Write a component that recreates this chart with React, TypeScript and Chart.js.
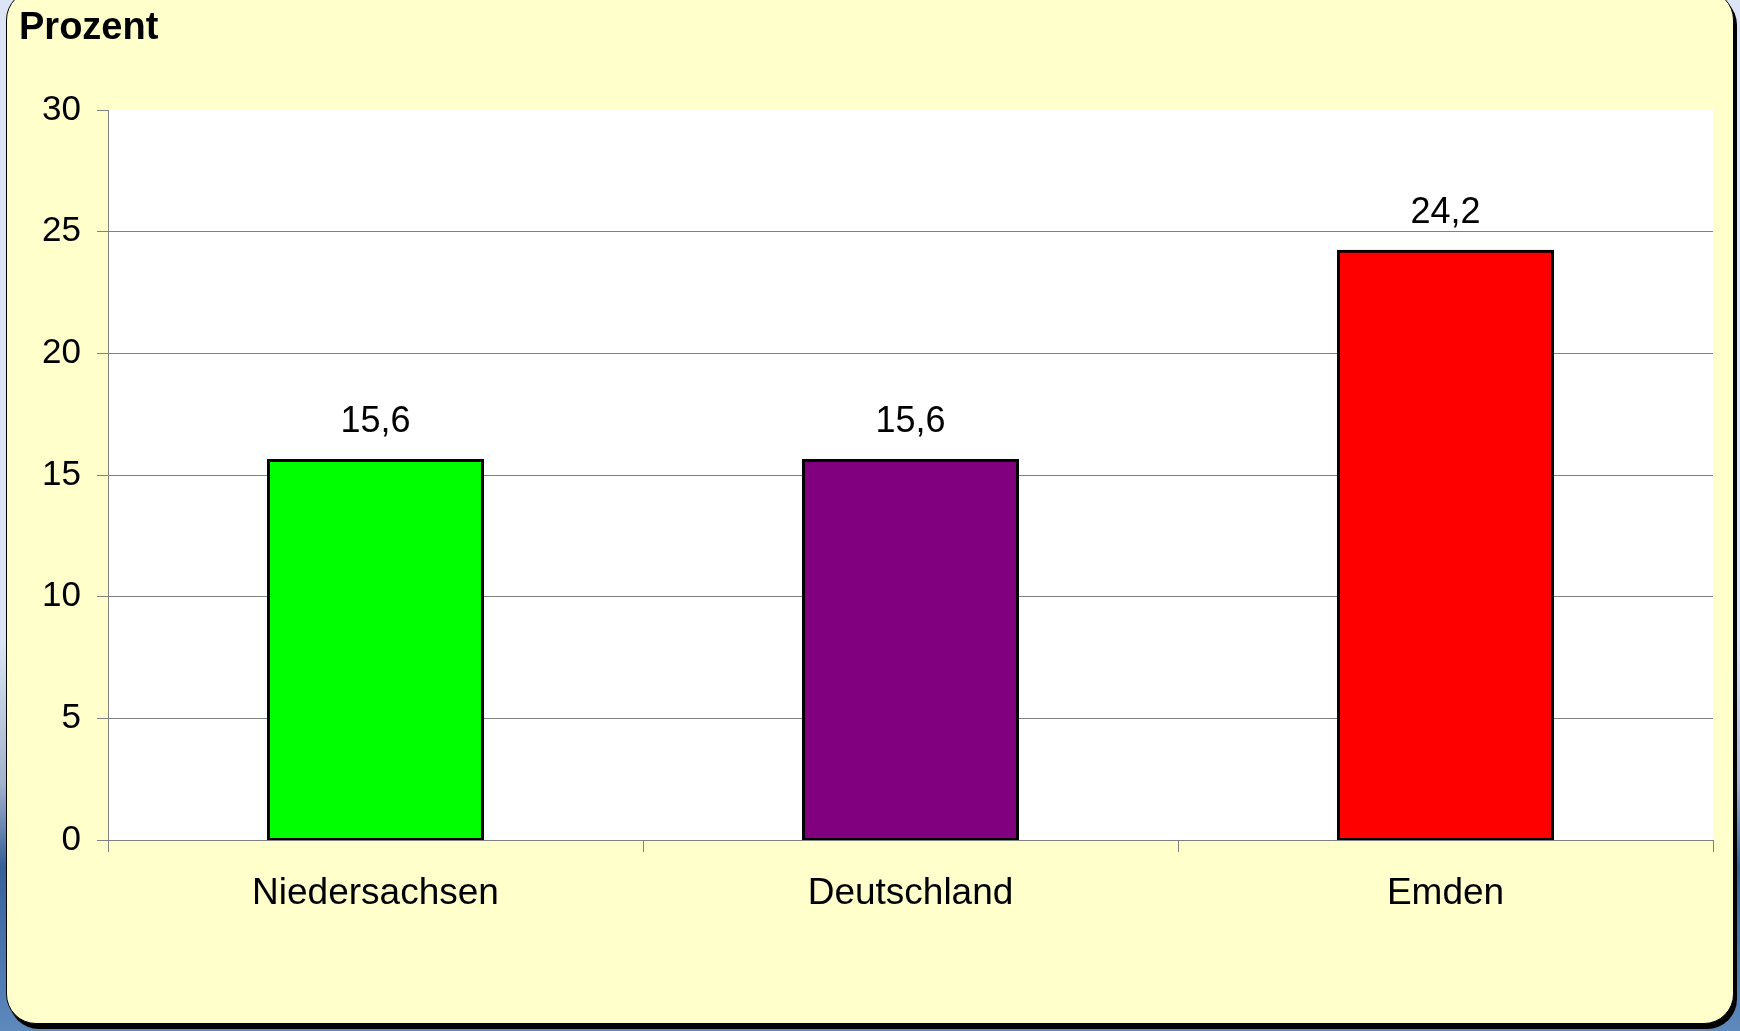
import React, { useEffect, useRef } from "react";
import { Chart, registerables } from "chart.js";

Chart.register(...registerables);

const categories: string[] = ["Niedersachsen", "Deutschland", "Emden"];
const values: number[] = [15.6, 15.6, 24.2];
const barColors: string[] = ["#00FF00", "#800080", "#FF0000"];
const yTickMin = 0;
const yTickMax = 30;
const yTickStep = 5;
const titleText = "Prozent";

const FONT = "'Liberation Sans', Arial, sans-serif";

const plotBgPlugin = {
  id: "plotBg",
  beforeDraw(chart: any) {
    const { ctx, chartArea } = chart;
    ctx.save();
    ctx.fillStyle = "#FFFFFF";
    ctx.fillRect(chartArea.left, chartArea.top, chartArea.right - chartArea.left, chartArea.bottom - chartArea.top);
    ctx.restore();
  },
};

const valueLabelPlugin = {
  id: "valueLabels",
  afterDatasetsDraw(chart: any) {
    const { ctx } = chart;
    const meta = chart.getDatasetMeta(0);
    const data = chart.data.datasets[0].data as number[];
    ctx.save();
    ctx.font = `36px ${FONT}`;
    ctx.fillStyle = "#000000";
    ctx.textAlign = "center";
    ctx.textBaseline = "alphabetic";
    meta.data.forEach((bar: any, i: number) => {
      const txt = data[i].toFixed(1).replace(".", ",");
      ctx.fillText(txt, bar.x, bar.y - 28);
    });
    ctx.restore();
  },
};

export default function App() {
  const canvasRef = useRef<HTMLCanvasElement | null>(null);

  useEffect(() => {
    document.body.style.margin = "0";
    const canvas = canvasRef.current;
    if (!canvas) return;
    const chart = new Chart(canvas, {
      type: "bar",
      data: {
        labels: categories,
        datasets: [
          {
            data: values,
            backgroundColor: barColors,
            borderColor: "#000000",
            borderWidth: 3,
            borderSkipped: false,
            inflateAmount: 1.5,
            barPercentage: 0.4,
            categoryPercentage: 1.0,
          },
        ],
      },
      options: {
        responsive: false,
        animation: false,
        devicePixelRatio: 1,
        layout: { padding: { left: 19, right: 27, top: 0, bottom: 0 } },
        plugins: {
          legend: { display: false },
          tooltip: { enabled: false },
          title: {
            display: true,
            text: titleText,
            align: "start",
            color: "#000000",
            font: { family: FONT, size: 38, weight: "bold" },
            padding: { top: 6, bottom: 58.4 },
          },
        },
        scales: {
          x: {
            offset: true,
            grid: {
              offset: true,
              drawOnChartArea: false,
              drawTicks: true,
              tickLength: 12,
              color: "#808080",
              lineWidth: 1,
            },
            border: { display: true, color: "#808080", width: 1 },
            ticks: {
              color: "#000000",
              font: { family: FONT, size: 37 },
              padding: 20,
              maxRotation: 0,
              autoSkip: false,
            },
            afterFit(scale: any) {
              scale.height = 191;
            },
          },
          y: {
            min: yTickMin,
            max: yTickMax,
            ticks: {
              stepSize: yTickStep,
              color: "#000000",
              font: { family: FONT, size: 35 },
              padding: 16,
            },
            grid: {
              color: (ctx: any) => (ctx.tick && ctx.tick.value === yTickMax ? "rgba(0,0,0,0)" : "#808080"),
              tickColor: "#808080",
              lineWidth: 1,
              tickLength: 11,
              drawTicks: true,
            },
            border: { display: true, color: "#808080", width: 1 },
            afterFit(scale: any) {
              scale.width = 89;
            },
          },
        },
      },
      plugins: [plotBgPlugin, valueLabelPlugin],
    });
    return () => chart.destroy();
  }, []);

  return (
    <div
      style={{
        position: "fixed",
        left: 0,
        top: 0,
        width: 1740,
        height: 1031,
        overflow: "hidden",
        background:
          "linear-gradient(to bottom, #dbe5f5 0%, #dbe5f5 62%, #a3b3cd 76%, #365f98 84%, #3f6aa3 88%, #5e89bd 100%)",
      }}
    >
      <div
        style={{
          position: "absolute",
          left: 6,
          top: -10,
          width: 1726,
          height: 1032,
          background: "#FFFFCC",
          border: "1px solid #000",
          borderRadius: 30,
          boxShadow: "3px 5px 0 #000",
        }}
      />
      <canvas
        ref={canvasRef}
        width={1740}
        height={1031}
        style={{ position: "absolute", left: 0, top: 0, width: 1740, height: 1031 }}
      />
    </div>
  );
}
